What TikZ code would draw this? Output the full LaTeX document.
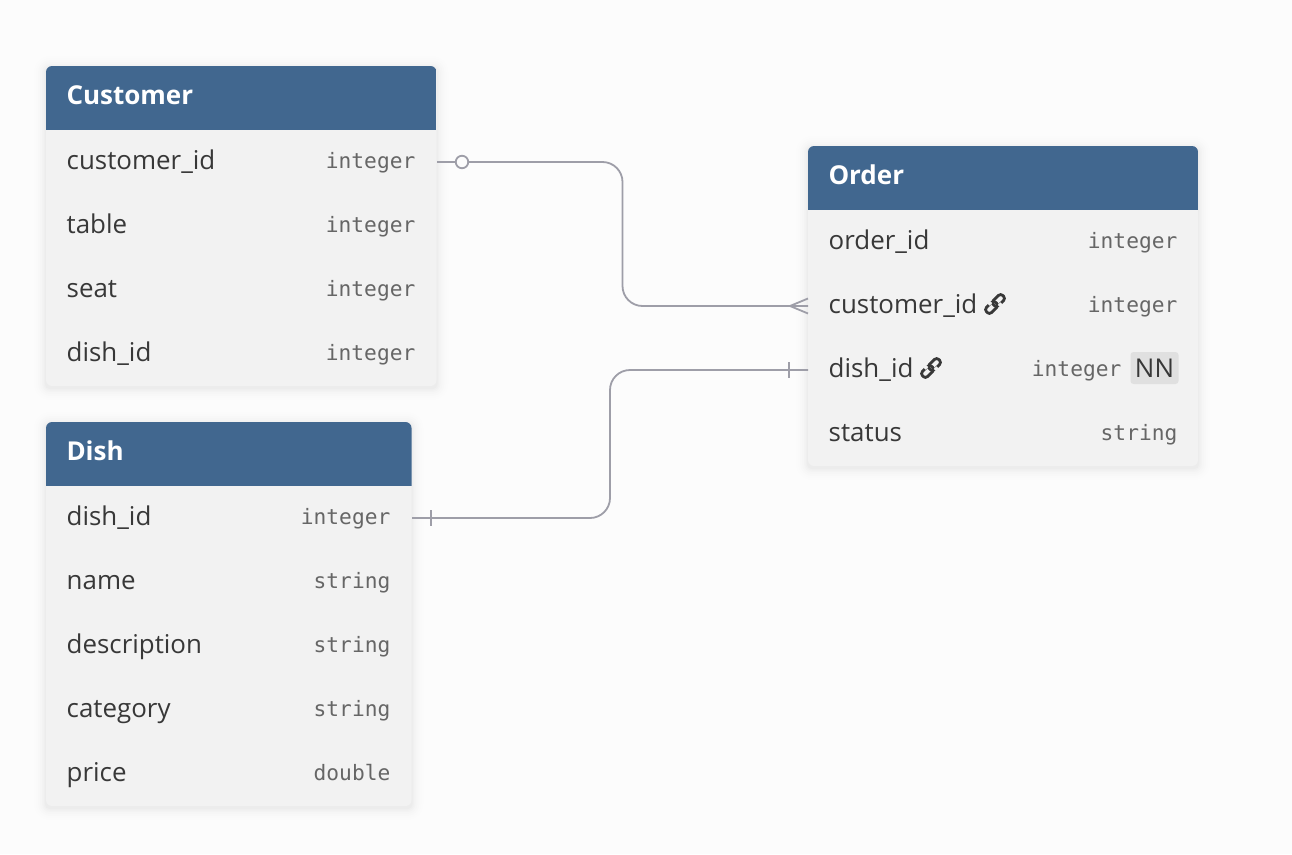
\documentclass[tikz,border=0pt]{standalone}
\usepackage{fontspec}
\setmainfont{Open Sans}
\newfontfamily\monof{DejaVu Sans Mono}
\usetikzlibrary{calc}
\definecolor{bgc}{HTML}{FCFCFC}
\definecolor{headc}{HTML}{41678F}
\definecolor{bodyc}{HTML}{F2F2F2}
\definecolor{linec}{HTML}{9E9EA8}
\definecolor{textc}{HTML}{383838}
\definecolor{typec}{HTML}{666666}
\definecolor{nnc}{HTML}{E0E0E0}
\tikzset{
  x=1pt,y=-1pt,
  title/.style={anchor=base west,inner sep=0pt,text=white,font=\fontsize{26}{26}\selectfont\bfseries},
  field/.style={anchor=base west,inner sep=0pt,text=textc,font=\fontsize{25.9}{26}\selectfont},
  ftype/.style={anchor=base east,inner sep=0pt,text=typec,font=\monof\fontsize{21.2}{21}\selectfont},
  conn/.style={draw=linec,line width=1.8pt,rounded corners=20pt},
  mark line/.style={draw=linec,line width=1.8pt},
  nnbox/.style={fill=nnc,rounded corners=3pt,inner sep=0pt,minimum width=48pt,minimum height=32pt,text=textc,font=\fontsize{25.9}{26}\selectfont},
}
\newcommand{\tablebox}[6]{% name, x1, y1, x2, y2, title
  \foreach \s/\o in {12/0.004,10/0.005,8/0.006,6/0.008,4/0.01,2.5/0.012,1.2/0.014}{
    \fill[black,opacity=\o,rounded corners=\s pt+4pt] ($(#2,#3)+(-\s,-\s+2)$) rectangle ($(#4,#5)+(\s,\s+2)$);
  }
  \fill[bodyc,rounded corners=6pt] (#2,#3) rectangle (#4,#5);
  \begin{scope}
    \clip[rounded corners=6pt] (#2,#3) rectangle (#4,#5);
    \fill[headc] (#2,#3) rectangle (#4,{#3+64});
  \end{scope}
  \node[title] (#1head) at ({#2+20.3},{#3+38.6}) {#6};
}
\newcommand{\linkicon}[2]{% x, y centre
  \begin{scope}[shift={(#1,#2)},rotate=45]
    \draw[textc,line width=2.8pt,rounded corners=3pt] (-11.5,-3.6) rectangle (1.6,3.6);
    \draw[textc,line width=2.8pt,rounded corners=3pt] (-1.6,-3.6) rectangle (11.5,3.6);
    \fill[bodyc] (-5,-5.4) rectangle (-1.4,-2.6);
    \fill[bodyc] (1.4,2.6) rectangle (5,5.4);
  \end{scope}
}
\begin{document}
\begin{tikzpicture}
\useasboundingbox (0,0) rectangle (1292,854);
\fill[bgc] (0,0) rectangle (1292,854);

\tablebox{cust}{46}{66}{436.5}{386}{Customer}
\node[field] (c1) at (66.5,169) {customer\_id};
\node[ftype] (c1t) at (415.5,168.5) {integer};
\node[field] (c2) at (66.5,233) {table};
\node[ftype] (c2t) at (415.5,232.5) {integer};
\node[field] (c3) at (66.5,297) {seat};
\node[ftype] (c3t) at (415.5,296.5) {integer};
\node[field] (c4) at (66.5,361) {dish\_id};
\node[ftype] (c4t) at (415.5,360.5) {integer};

\tablebox{dish}{46}{422}{411.5}{806}{Dish}
\node[field] (d1) at (66.5,525) {dish\_id};
\node[ftype] (d1t) at (390.5,524.5) {integer};
\node[field] (d2) at (66.5,589) {name};
\node[ftype] (d2t) at (390.5,588.5) {string};
\node[field] (d3) at (66.5,653) {description};
\node[ftype] (d3t) at (390.5,652.5) {string};
\node[field] (d4) at (66.5,717) {category};
\node[ftype] (d4t) at (390.5,716.5) {string};
\node[field] (d5) at (66.5,781) {price};
\node[ftype] (d5t) at (390.5,780.5) {double};

\tablebox{ord}{808}{146}{1198}{466}{Order}
\node[field] (o1) at (828.5,249) {order\_id};
\node[ftype] (o1t) at (1177.5,248.5) {integer};
\node[field] (o2) at (828.5,313) {customer\_id};
\linkicon{995}{304}
\node[ftype] (o2t) at (1177.5,312.5) {integer};
\node[field] (o3) at (828.5,377) {dish\_id};
\linkicon{931}{368}
\node[ftype] (o3t) at (1121.5,376.5) {integer};
\node[nnbox] (nn) at (1154.5,368) {NN};
\node[field] (o4) at (828.5,441) {status};
\node[ftype] (o4t) at (1177.5,440.5) {string};

\coordinate (a1) at (437,162);
\coordinate (a2) at (808,306);
\coordinate (b1) at (412,518);
\coordinate (b2) at (808,370);
\path[conn] (a1) -- (622.5,162) -- (622.5,306) -- (a2);
\path[conn] (b1) -- (610,518) -- (610,370) -- (b2);

\node[circle,draw=linec,line width=1.8pt,fill=bgc,minimum size=12.5pt,inner sep=0pt] (opt) at (462,162) {};
\coordinate (cf) at (790,306);
\coordinate (cfa) at (808,298.5);
\coordinate (cfb) at (808,313.5);
\path[mark line] (cfa) -- (cf) -- (cfb);
\coordinate (t1a) at (789,362);
\coordinate (t1b) at (789,378);
\path[mark line] (t1a) -- (t1b);
\coordinate (t2a) at (431,510);
\coordinate (t2b) at (431,526);
\path[mark line] (t2a) -- (t2b);
\end{tikzpicture}
\end{document}
